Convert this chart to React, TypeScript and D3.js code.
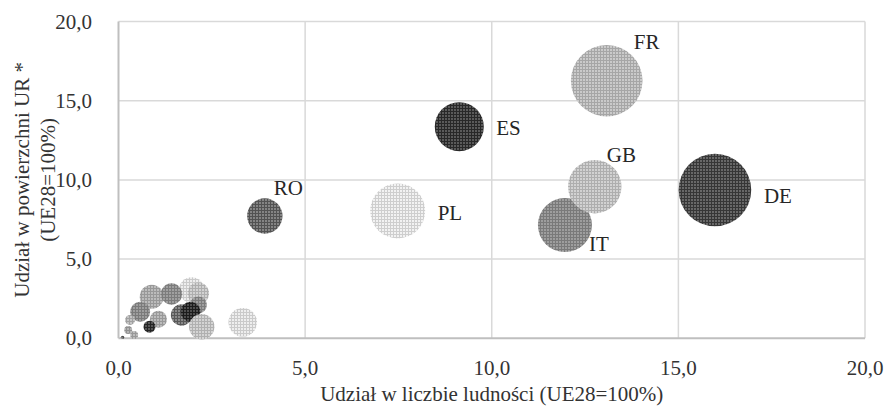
import React, { useEffect, useRef } from "react";
import * as d3 from "d3";

// country codes, population share (x), share in agricultural area (y), bubble size
const countries = ["GR", "HU", "IE", "BG", "CZ", "LT", "FI", "AT", "SE", "BE", "HR", "LV", "EE", "SI", "LU", "NL", "RO", "PL", "ES", "IT", "GB", "FR", "DE"];
const popShare = [1.96, 2.14, 0.89, 1.42, 2.14, 0.58, 1.07, 1.69, 1.93, 2.23, 0.83, 0.31, 0.26, 0.42, 0.11, 3.33, 3.92, 7.48, 9.13, 11.96, 12.76, 13.08, 15.98];
const areaShare = [3.05, 2.84, 2.63, 2.8, 2.1, 1.68, 1.2, 1.47, 1.68, 0.73, 0.73, 1.16, 0.52, 0.21, 0.06, 1.01, 7.72, 8.04, 13.36, 7.15, 9.57, 16.26, 9.36];
const bubbleSize = [1.96, 1.39, 1.75, 1.39, 0.88, 1.21, 0.88, 1.39, 1.21, 1.96, 0.44, 0.3, 0.19, 0.19, 0.035, 2.48, 3.8, 9.18, 7.29, 8.85, 8.65, 15.56, 16.0];
const labelled = ["RO", "PL", "ES", "IT", "GB", "FR", "DE"];
const ticks = [0, 5, 10, 15, 20];

// overall grey level of each bubble's pattern
const shade: Record<string, number> = {
  GR: 218, HU: 190, IE: 168, BG: 140, CZ: 140, LT: 138, FI: 168, AT: 110, SE: 50,
  BE: 192, HR: 58, LV: 176, EE: 160, SI: 168, LU: 96, NL: 218,
  RO: 104, PL: 222, ES: 62, IT: 138, GB: 190, FR: 182, DE: 76,
};
// label offset from bubble centre (px)
const labelPos: Record<string, [number, number]> = {
  RO: [9, -28], PL: [40, 2], ES: [37, 1], IT: [24, 19], GB: [12, -32], FR: [27, -39], DE: [49, 6],
};

const W = 887;
const H = 407;
const FONT = "'Liberation Serif', 'Times New Roman', serif";

const grey = (v: number) => {
  const c = Math.max(0, Math.min(255, Math.round(v)));
  return d3.rgb(c, c, c).formatHex();
};

const App = () => {
  const ref = useRef<SVGSVGElement>(null);

  useEffect(() => {
    const svg = d3.select(ref.current);
    svg.selectAll("*").remove();

    const x = d3.scaleLinear().domain([0, 20]).range([118.5, 865]);
    const y = d3.scaleLinear().domain([0, 20]).range([338.3, 21.5]);
    const r = d3.scaleSqrt().domain([0, 16]).range([0, 36.3]);
    const fmt = (v: number) => d3.format(".1f")(v).replace(".", ",");

    // fine grid patterns (Excel-like pattern fill)
    const defs = svg.append("defs");
    countries.forEach((c) => {
      const t = shade[c];
      const k = t < 120 ? 1.4 : 1;
      const p = defs
        .append("pattern")
        .attr("id", "pat-" + c)
        .attr("width", 3)
        .attr("height", 3)
        .attr("patternUnits", "userSpaceOnUse");
      p.append("rect").attr("width", 3).attr("height", 3).attr("fill", grey(t + 20 * k));
      p.append("path")
        .attr("d", "M0 0.5H3M0.5 0V3")
        .attr("stroke", grey(t - 16 * k))
        .attr("stroke-width", 1);
    });

    // grid
    const grid = svg.append("g");
    ticks.filter((d) => d > 0).forEach((d) => {
      grid.append("line")
        .attr("x1", x(d)).attr("x2", x(d))
        .attr("y1", y(20)).attr("y2", y(0))
        .attr("stroke", "#d9d9d9").attr("stroke-width", 1.5);
      grid.append("line")
        .attr("x1", x(0)).attr("x2", x(20))
        .attr("y1", y(d)).attr("y2", y(d))
        .attr("stroke", "#d9d9d9").attr("stroke-width", 1.5);
    });
    // axes
    grid.append("line")
      .attr("x1", x(0)).attr("x2", x(0)).attr("y1", y(20)).attr("y2", y(0))
      .attr("stroke", "#bfbfbf").attr("stroke-width", 2);
    grid.append("line")
      .attr("x1", x(0)).attr("x2", x(20)).attr("y1", y(0)).attr("y2", y(0))
      .attr("stroke", "#bfbfbf").attr("stroke-width", 2);

    // bubbles
    const data = countries.map((c, i) => ({ c, px: popShare[i], ar: areaShare[i], s: bubbleSize[i] }));
    svg.append("g")
      .selectAll("circle")
      .data(data)
      .enter()
      .append("circle")
      .attr("cx", (d) => x(d.px))
      .attr("cy", (d) => y(d.ar))
      .attr("r", (d) => r(d.s))
      .attr("fill", (d) => "url(#pat-" + d.c + ")");

    // data labels
    svg.append("g")
      .selectAll("text")
      .data(data.filter((d) => labelled.includes(d.c)))
      .enter()
      .append("text")
      .attr("x", (d) => x(d.px) + labelPos[d.c][0])
      .attr("y", (d) => y(d.ar) + labelPos[d.c][1])
      .attr("dominant-baseline", "central")
      .attr("font-family", FONT)
      .attr("font-size", 21)
      .attr("fill", "#262626")
      .text((d) => d.c);

    // tick labels
    const tl = svg.append("g").attr("font-family", FONT).attr("font-size", 21).attr("fill", "#333");
    ticks.forEach((d) => {
      tl.append("text")
        .attr("x", x(d)).attr("y", 368)
        .attr("text-anchor", "middle").attr("dominant-baseline", "central")
        .text(fmt(d));
      tl.append("text")
        .attr("x", 92).attr("y", y(d))
        .attr("text-anchor", "end").attr("dominant-baseline", "central")
        .text(fmt(d));
    });

    // axis titles
    tl.append("text")
      .attr("x", (x(0) + x(20)) / 2).attr("y", 394)
      .attr("text-anchor", "middle").attr("dominant-baseline", "central")
      .text("Udział w liczbie ludności (UE28=100%)");
    const yt = tl.append("text")
      .attr("transform", `translate(0,${(y(0) + y(20)) / 2}) rotate(-90)`)
      .attr("text-anchor", "middle");
    yt.append("tspan").attr("x", 0).attr("y", 29).text("Udział w powierzchni UR *");
    yt.append("tspan").attr("x", 0).attr("y", 55).text("(UE28=100%)");
  }, []);

  return (
    <div>
      <svg
        ref={ref}
        width={W}
        height={H}
        style={{ position: "absolute", left: 0, top: 0, background: "#fff" }}
      ></svg>
    </div>
  );
};

export default App;
